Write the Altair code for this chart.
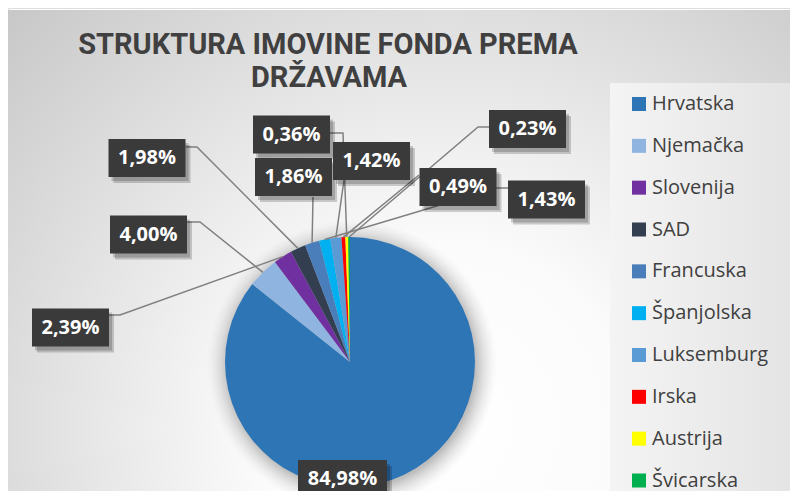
import math
import altair as alt
import pandas as pd

# ---------------- data ----------------
countries = ["Hrvatska", "Njemačka", "Slovenija", "SAD", "Francuska",
             "Španjolska", "Luksemburg", "Irska", "Austrija", "Švicarska"]
values = [84.98, 4.00, 2.39, 1.98, 1.86, 1.43, 1.42, 0.49, 0.36, 0.23]
labels = ["84,98%", "4,00%", "2,39%", "1,98%", "1,86%",
          "1,43%", "1,42%", "0,49%", "0,36%", "0,23%"]
colors = ["#2E75B6", "#8FB4E0", "#7030A0", "#333F50", "#4A7EBB",
          "#00B0F0", "#5B9BD5", "#FF0000", "#FFFF00", "#00B050"]
title_lines = ["STRUKTURA IMOVINE FONDA PREMA", "DRŽAVAMA"]

# ---------------- layout (page pixels) ----------------
OX, OY = 8, 8
W, H = 782, 483
CX, CY, R = 350 - OX, 362 - OY, 125

# label box centres and widths
box_layout = {
    "Hrvatska": (342.5, 479, 89),
    "Njemačka": (148.5, 234.5, 77),
    "Slovenija": (70.5, 327.5, 77),
    "SAD": (147, 158, 77),
    "Francuska": (293.5, 177, 77),
    "Španjolska": (546.5, 199.5, 77),
    "Luksemburg": (371.5, 161, 77),
    "Irska": (458, 187, 77),
    "Austrija": (291.5, 134.5, 77),
    "Švicarska": (527.5, 129, 77),
}
# leader line start / elbow points
leader_layout = {
    "Njemačka": [(187, 222), (200, 222)],
    "Slovenija": [(109, 315), (120, 315)],
    "SAD": [(186, 147), (197, 147)],
    "Francuska": [(313, 197)],
    "Španjolska": [(508, 188), (497, 188)],
    "Luksemburg": [(344, 180)],
    "Irska": [(419, 175)],
    "Austrija": [(330, 133), (343, 133)],
    "Švicarska": [(489, 127), (478, 127)],
}

df = pd.DataFrame({"country": countries, "value": values, "label": labels,
                   "idx": list(range(len(countries)))})

# slice mid points on the rim (derived from the values)
total = sum(values)
cum = 0.0
rim = {}
for c, v in zip(countries, values):
    a = 2 * math.pi * (cum + v / 2) / total
    rim[c] = (CX + R * math.sin(a), CY - R * math.cos(a))
    cum += v

line_rows = []
for c, pts in leader_layout.items():
    seq = 0
    for (px, py) in pts:
        line_rows.append({"country": c, "seq": seq, "x": px - OX, "y": py - OY})
        seq += 1
    line_rows.append({"country": c, "seq": seq, "x": rim[c][0], "y": rim[c][1]})
lines_df = pd.DataFrame(line_rows)

box_rows = []
for c, lab in zip(countries, labels):
    bx, by, bw = box_layout[c]
    box_rows.append({"country": c, "label": lab,
                     "cx": bx - OX, "cy": by - OY,
                     "x1": bx - OX - bw / 2, "x2": bx - OX + bw / 2,
                     "y1": by - OY - 19, "y2": by - OY + 19})
boxes_df = pd.DataFrame(box_rows)

title_df = pd.DataFrame({"t": title_lines, "x": [320, 321], "y": [37, 70]})
one = pd.DataFrame({"a": [0]})

# ---------------- layers ----------------
bg_grad = {"gradient": "radial", "x1": 0.55, "y1": 0.72, "r1": 0,
           "x2": 0.55, "y2": 0.72, "r2": 0.78,
           "stops": [{"offset": 0, "color": "#ffffff"},
                     {"offset": 0.3, "color": "#fbfbfb"},
                     {"offset": 1, "color": "#c6c6c6"}]}
bg = alt.Chart(one).mark_rect(fill=bg_grad).encode(
    x=alt.value(0), x2=alt.value(790), y=alt.value(2), y2=alt.value(491))

leg_grad = {"gradient": "linear", "x1": 0, "y1": 0, "x2": 1, "y2": 0,
            "stops": [{"offset": 0, "color": "#f4f4f4"},
                      {"offset": 1, "color": "#e4e4e4"}]}
leg_bg = alt.Chart(one).mark_rect(fill=leg_grad).encode(
    x=alt.value(602), x2=alt.value(784), y=alt.value(75), y2=alt.value(491))

shadow_grad = {"gradient": "radial", "x1": 0.5, "y1": 0.5, "r1": 0,
               "x2": 0.5, "y2": 0.5, "r2": 0.5,
               "stops": [{"offset": 0.85, "color": "rgba(110,110,110,0.45)"},
                         {"offset": 1, "color": "rgba(200,200,200,0)"}]}
pie_shadow = alt.Chart(one).mark_circle(fill=shadow_grad, opacity=1, size=(2 * (R + 20)) ** 2).encode(
    x=alt.value(CX + 2), y=alt.value(CY + 3))

pie = alt.Chart(df).mark_arc(radius=R).encode(
    theta=alt.Theta("value:Q", stack=True),
    color=alt.Color("country:N", scale=alt.Scale(domain=countries, range=colors), legend=None),
    order=alt.Order("idx:Q"),
    x=alt.value(CX), y=alt.value(CY))

leaders = alt.Chart(lines_df).mark_line(color="#808080", strokeWidth=1.5).encode(
    x=alt.X("x:Q", scale=None), y=alt.Y("y:Q", scale=None),
    detail="country:N", order="seq:Q")

box_shadow = alt.Chart(boxes_df).mark_rect(fill="#000000", opacity=0.18).encode(
    x=alt.X("x1:Q", scale=None), x2="x2:Q",
    y=alt.Y("y1:Q", scale=None), y2="y2:Q")
box_shadow2 = box_shadow.transform_calculate(
    x1="datum.x1 + 3", x2="datum.x2 + 3", y1="datum.y1 + 4", y2="datum.y2 + 4")
box_shadow3 = box_shadow.transform_calculate(
    x1="datum.x1 + 5", x2="datum.x2 + 5", y1="datum.y1 + 6", y2="datum.y2 + 6")

boxes = alt.Chart(boxes_df).mark_rect(fill="#3a3a3a").encode(
    x=alt.X("x1:Q", scale=None), x2="x2:Q",
    y=alt.Y("y1:Q", scale=None), y2="y2:Q")

box_text = alt.Chart(boxes_df).mark_text(
    color="#ffffff", font="Open Sans", fontSize=20, fontWeight="bold",
    align="center", baseline="middle").encode(
    x=alt.X("cx:Q", scale=None), y=alt.Y("cy:Q", scale=None), text="label:N")

title = alt.Chart(title_df).mark_text(
    color="#404040", font="Roboto",
    fontSize=29, fontWeight="bold", align="center", baseline="middle").encode(
    x=alt.X("x:Q", scale=None), y=alt.Y("y:Q", scale=None), text="t:N")

leg_y = alt.Y("country:N", scale=alt.Scale(type="point", domain=countries,
                                            range=[96, 472.5], padding=0), axis=None)
leg_sym = alt.Chart(df).mark_square(size=196, opacity=1).encode(
    x=alt.value(631), y=leg_y,
    color=alt.Color("country:N", scale=alt.Scale(domain=countries, range=colors), legend=None))
leg_txt = alt.Chart(df).mark_text(
    color="#404040", font="Open Sans", fontSize=20, align="left", baseline="middle").encode(
    x=alt.value(644), y=leg_y, text="country:N")

chart = alt.layer(
    bg, leg_bg, pie_shadow, pie, leaders,
    box_shadow2, box_shadow3, boxes, box_text, title, leg_sym, leg_txt
).resolve_scale(
    x="independent", y="independent", color="independent", theta="independent"
).properties(
    width=W, height=H, padding=0, autosize=alt.AutoSizeParams(type="none")
).configure_view(stroke=None).configure(background="#ffffff")

chart.save("out.html", embed_options={"renderer": "svg", "actions": False})
